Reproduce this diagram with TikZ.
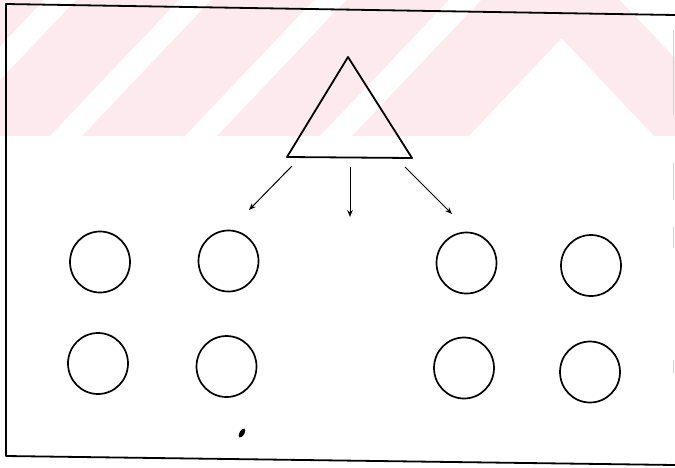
\documentclass[tikz,border=0pt]{standalone}
\usetikzlibrary{arrows.meta,shapes.geometric}
\definecolor{wmpink}{RGB}{252,234,238}
\tikzset{
  ring/.style={draw=black, line width=1.7pt, ellipse, minimum width=60pt, minimum height=61pt, inner sep=0pt},
  frameline/.style={line width=1.8pt, line join=round},
  triline/.style={line width=1.8pt, line join=round},
  arr/.style={line width=1pt, -{Stealth[length=7pt,width=5.5pt]}},
  ghost/.style={draw=gray!35, line width=1pt}
}
\begin{document}
\begin{tikzpicture}[x=1pt,y=-1pt]
\useasboundingbox (0,0) rectangle (675,467);
% watermark band
\begin{scope}
\clip (0,0) rectangle (675,136);
\fill[wmpink] (0,0) rectangle (675,136);
\fill[white] (44,0) -- (76,0) -- (-53,136) -- (-85,136) -- cycle;
\fill[white] (179,0) -- (211,0) -- (82,136) -- (50,136) -- cycle;
\fill[white] (314,0) -- (346,0) -- (217,136) -- (185,136) -- cycle;
\fill[white] (449,0) -- (481,0) -- (352,136) -- (320,136) -- cycle;
\fill[white] (561.5,38.4) -- (469,136) -- (654,136) -- cycle;
\fill[white] (620,0) -- (800,0) -- (800,136) -- (749,136) -- cycle;
\end{scope}
% frame
\draw[frameline] (675,15) -- (6,4) -- (6,456) -- (675,465);
% faint right edge marks
\draw[ghost] (673.5,30) -- (673.5,115);
\draw[ghost] (673.5,163) -- (673.5,200);
\draw[ghost] (673.5,227) -- (673.5,248);
\draw[ghost] (673.5,360) -- (673.5,373);
% triangle
\coordinate (apex) at (348,57);
\coordinate (bl) at (287,157);
\coordinate (br) at (412,158);
\draw[triline] (apex) -- (bl) -- (br) -- cycle;
% arrows
\coordinate (s1) at (292,166);
\coordinate (e1) at (249,210);
\coordinate (s2) at (350,167);
\coordinate (e2) at (350,217);
\coordinate (s3) at (405,167);
\coordinate (e3) at (452,214);
\draw[arr] (s1) -- (e1);
\draw[arr] (s2) -- (e2);
\draw[arr] (s3) -- (e3);
% circles
\node[ring] (c1) at (100,262) {};
\node[ring] (c2) at (228.5,261) {};
\node[ring] (c3) at (466.5,263) {};
\node[ring] (c4) at (591,265.5) {};
\node[ring] (c5) at (98,363.5) {};
\node[ring] (c6) at (226.5,366.5) {};
\node[ring] (c7) at (464,368) {};
\node[ring] (c8) at (590,372) {};
% ink blot
\fill[black, rotate around={60:(242,433)}] (242,433) ellipse (5pt and 2.5pt);
\end{tikzpicture}
\end{document}
